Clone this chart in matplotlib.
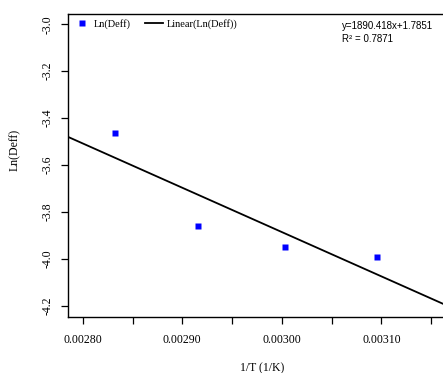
import numpy as np
import matplotlib
matplotlib.use("Agg")
import matplotlib.pyplot as plt
from matplotlib.ticker import FixedLocator, FixedFormatter

# data: 1/T for T = 353, 343, 333, 323 K
inv_T = [1 / 353, 1 / 343, 1 / 333, 1 / 323]
ln_deff = [-3.462, -3.860, -3.948, -3.992]

slope = -1890.418
intercept = 1.7851
eq_text = "y=1890.418x+1.7851"
r2_text = "R\u00b2 = 0.7871"

x_ticks = [0.00280, 0.00285, 0.00290, 0.00295, 0.00300, 0.00305, 0.00310, 0.00315]
x_tick_labels = ["0.00280", "", "0.00290", "", "0.00300", "", "0.00310", ""]
y_ticks = [-3.0, -3.2, -3.4, -3.6, -3.8, -4.0, -4.2]
y_tick_labels = ["-3.0", "-3.2", "-3.4", "-3.6", "-3.8", "-4.0", "-4.2"]

W, H = 443, 373
fig = plt.figure(figsize=(W / 100, H / 100), dpi=100)
plt.rcParams['font.family'] = ['Liberation Serif', 'DejaVu Serif']

# plot region in pixels (right edge is cut by the picture)
left, right, top, bottom = 68, 455, 13.7, 317.3
ax = fig.add_axes([left / W, 1 - bottom / H, (right - left) / W, (bottom - top) / H])

xlim = (0.00278524, 0.0031738)
ax.set_xlim(xlim)
ax.set_ylim(-4.2495, -2.955)

pts, = ax.plot(inv_T, ln_deff, linestyle='none', marker='s', ms=4.6,
               color='#0000ff', mec='none', label='Ln(Deff)')
xs = np.array(xlim)
fit, = ax.plot(xs, slope * xs + intercept, color='black', lw=1.3,
               label='Linear(Ln(Deff))')

for s in ['left', 'top', 'bottom']:
    ax.spines[s].set_linewidth(1.0)
ax.spines['right'].set_visible(False)

ax.xaxis.set_major_locator(FixedLocator(x_ticks))
ax.xaxis.set_major_formatter(FixedFormatter(x_tick_labels))
ax.yaxis.set_major_locator(FixedLocator(y_ticks))
ax.yaxis.set_major_formatter(FixedFormatter(y_tick_labels))
ax.tick_params(axis='both', direction='out', length=5.3, width=0.9, labelsize=8.5)
ax.tick_params(axis='x', pad=7)
ax.tick_params(axis='y', pad=5)
for lab in ax.get_yticklabels():
    lab.set_rotation(90)
    lab.set_verticalalignment('center')

ax.set_xlabel('1/T (1/K)', fontsize=8.5)
ax.xaxis.label.set_verticalalignment('center')
ax.xaxis.set_label_coords(261.7 / W, 1 - 368 / H, transform=fig.transFigure)
ax.set_ylabel('Ln(Deff)', fontsize=8.5)
ax.yaxis.label.set_verticalalignment('center')
ax.yaxis.set_label_coords(15 / W, 1 - 150 / H, transform=fig.transFigure)

ax.legend(handles=[pts, fit], ncol=2, frameon=False, fontsize=7.5,
          loc='center left', bbox_to_anchor=(73 / W, 1 - 24.3 / H),
          bbox_transform=fig.transFigure, borderaxespad=0, borderpad=0,
          handlelength=1.65, handletextpad=0.35, columnspacing=1.4)

fig.text(341.7 / W, 1 - 26 / H, eq_text, family='Liberation Sans',
         fontsize=7, ha='left', va='center')
fig.text(341.7 / W, 1 - 39.3 / H, r2_text, family='Liberation Sans',
         fontsize=7, ha='left', va='center')

fig.savefig('out.png', dpi=100)
